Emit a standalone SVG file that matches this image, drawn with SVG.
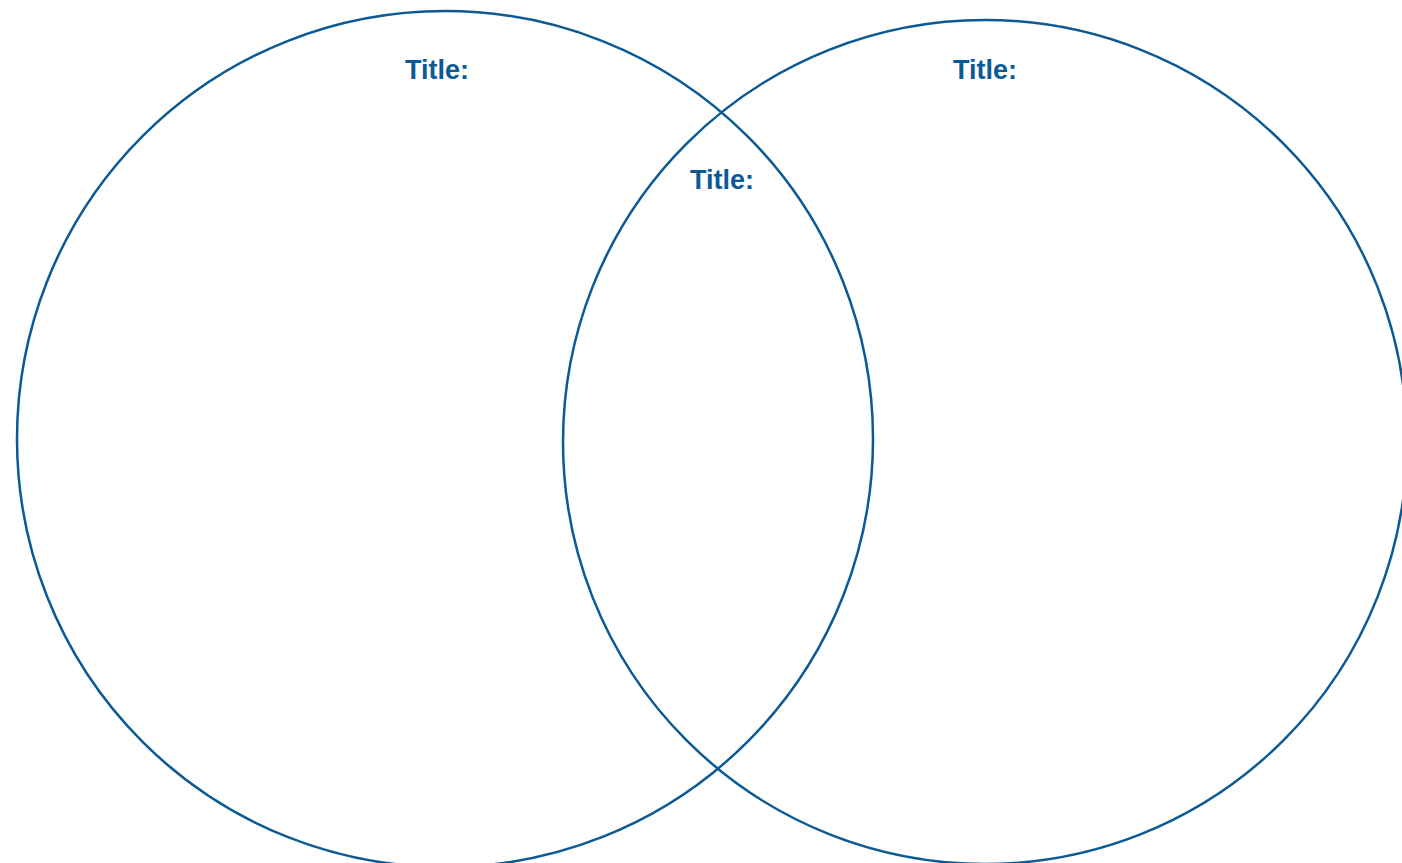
<svg xmlns="http://www.w3.org/2000/svg" width="1402" height="863" viewBox="0 0 1402 863">
<style>
.c{fill:none;stroke:#0b5a94;stroke-width:2.5}
.t{font-family:"Liberation Sans",Arial,sans-serif;font-weight:bold;font-size:27px;fill:#0b5a94;text-anchor:middle}
</style>
<rect width="1402" height="863" fill="#fff"/>
<g id="left">
<circle class="c" cx="445" cy="439" r="428"/>
<text class="t" x="437" y="79">Title:</text>
</g>
<g id="right">
<circle class="c" cx="985" cy="442" r="422"/>
<text class="t" x="985" y="79">Title:</text>
</g>
<g id="overlap">
<text class="t" x="722" y="189">Title:</text>
</g>
<g id="connectors"></g>
</svg>
